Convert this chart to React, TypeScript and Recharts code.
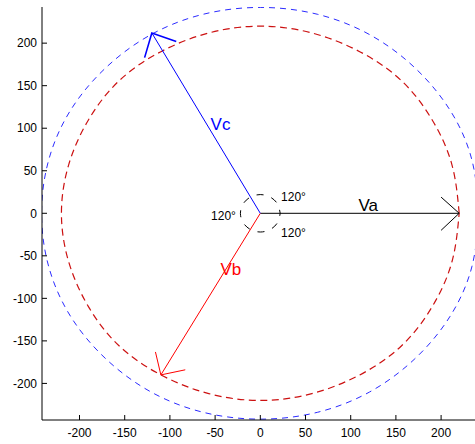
import React from 'react';
import { LineChart, Line, XAxis, YAxis, ReferenceDot } from 'recharts';

// Phasor diagram: three voltage vectors with their tip loci

const xTicks = [-200, -150, -100, -50, 0, 50, 100, 150, 200];
const yTicks = [-200, -150, -100, -50, 0, 50, 100, 150, 200];

// outer locus (blue dashed)
const outerLocus = [
  { x: 242, y: 0 }, { x: 234, y: 63 }, { x: 210, y: 121 }, { x: 171, y: 171 },
  { x: 121, y: 210 }, { x: 63, y: 234 }, { x: 0, y: 242 }, { x: -63, y: 234 },
  { x: -121, y: 210 }, { x: -171, y: 171 }, { x: -210, y: 121 }, { x: -234, y: 63 },
  { x: -242, y: 0 }, { x: -234, y: -63 }, { x: -210, y: -121 }, { x: -171, y: -171 },
  { x: -121, y: -210 }, { x: -63, y: -234 }, { x: 0, y: -242 }, { x: 63, y: -234 },
  { x: 121, y: -210 }, { x: 171, y: -171 }, { x: 210, y: -121 }, { x: 234, y: -63 },
  { x: 242, y: 0 },
];

// inner locus (red dashed)
const innerLocus = [
  { x: 220, y: 0 }, { x: 212, y: 57 }, { x: 190, y: 110 }, { x: 156, y: 156 },
  { x: 110, y: 190 }, { x: 57, y: 212 }, { x: 0, y: 220 }, { x: -57, y: 212 },
  { x: -110, y: 190 }, { x: -156, y: 156 }, { x: -190, y: 110 }, { x: -212, y: 57 },
  { x: -220, y: 0 }, { x: -212, y: -57 }, { x: -190, y: -110 }, { x: -156, y: -156 },
  { x: -110, y: -190 }, { x: -57, y: -212 }, { x: 0, y: -220 }, { x: 57, y: -212 },
  { x: 110, y: -190 }, { x: 156, y: -156 }, { x: 190, y: -110 }, { x: 212, y: -57 },
  { x: 220, y: 0 },
];

// angle marker round the origin
const angleMarker = [
  { x: 22, y: 0 }, { x: 19, y: 11 }, { x: 11, y: 19 }, { x: 0, y: 22 },
  { x: -11, y: 19 }, { x: -19, y: 11 }, { x: -22, y: 0 }, { x: -19, y: -11 },
  { x: -11, y: -19 }, { x: 0, y: -22 }, { x: 11, y: -19 }, { x: 19, y: -11 },
  { x: 22, y: 0 },
];

const vaShaft = [{ x: 0, y: 0 }, { x: 220, y: 0 }];
const vaHead = [{ x: 200, y: 19 }, { x: 220, y: 0 }, { x: 200, y: -20 }];
const vbShaft = [{ x: 0, y: 0 }, { x: -110, y: -190 }];
const vbHead = [{ x: -116, y: -163 }, { x: -110, y: -190 }, { x: -83, y: -184 }];
const vcShaft = [{ x: 0, y: 0 }, { x: -120, y: 212 }];
const vcHead = [{ x: -128, y: 183 }, { x: -120, y: 212 }, { x: -93, y: 202 }];

const labels = [
  { x: 108.5, y: 2.7, text: 'Va', color: '#000', size: 17 },
  { x: -55, y: 97.5, text: 'Vc', color: '#0000ff', size: 17 },
  { x: -44, y: -73, text: 'Vb', color: '#ff0000', size: 17 },
  { x: 23, y: 14.4, text: '120°', color: '#000', size: 12 },
  { x: 23, y: -27.8, text: '120°', color: '#000', size: 12 },
  { x: -54.5, y: -7.4, text: '120°', color: '#000', size: 12 },
];

const series = [
  { key: 'outer', data: outerLocus, stroke: '#2b2bff', width: 1, dash: '6 5', type: 'natural' },
  { key: 'inner', data: innerLocus, stroke: '#cc1111', width: 1.2, dash: '7 4.5', type: 'natural' },
  { key: 'va', data: vaShaft, stroke: '#333', width: 1.3, type: 'linear' },
  { key: 'vaHead', data: vaHead, stroke: '#000', width: 1, type: 'linear' },
  { key: 'vb', data: vbShaft, stroke: '#ff0000', width: 1, type: 'linear' },
  { key: 'vbHead', data: vbHead, stroke: '#ff0000', width: 1, type: 'linear' },
  { key: 'vc', data: vcShaft, stroke: '#0000ff', width: 1, type: 'linear' },
  { key: 'vcHead', data: vcHead, stroke: '#0000ff', width: 1.6, type: 'linear' },
  { key: 'angle', data: angleMarker, stroke: '#000', width: 1, dash: '7 8.2', offset: 3.5, type: 'natural' },
];

const FONT = '"Liberation Sans", Arial, Helvetica, sans-serif';

const App: React.FC = () => {
  return (
    <div style={{ position: 'absolute', left: 0, top: 0, fontFamily: FONT }}>
      <LineChart
        width={475}
        height={444}
        margin={{ top: 7, right: 0, bottom: 0, left: 0 }}
      >
        <XAxis
          type="number"
          dataKey="x"
          domain={[-241.5, 237.5]}
          allowDataOverflow
          ticks={xTicks}
          interval={0}
          height={24}
          stroke="#000"
          tickSize={-5}
          tickMargin={13}
          tick={{ fill: '#000', fontSize: 12, fontFamily: FONT }}
        />
        <YAxis
          type="number"
          dataKey="y"
          domain={[-243, 242.5]}
          allowDataOverflow
          ticks={yTicks}
          interval={0}
          width={42}
          stroke="#000"
          tickSize={-5}
          tickMargin={10}
          tick={{ fill: '#000', fontSize: 12, fontFamily: FONT }}
        />
        {series.map((s) => (
          <Line
            key={s.key}
            data={s.data}
            dataKey="y"
            type={s.type as any}
            stroke={s.stroke}
            strokeWidth={s.width}
            strokeDasharray={s.dash}
            strokeDashoffset={s.offset}
            dot={false}
            activeDot={false}
            isAnimationActive={false}
          />
        ))}
        {labels.map((l, i) => (
          <ReferenceDot
            key={i}
            x={l.x}
            y={l.y}
            r={0}
            shape={(p: any) => (
              <text
                x={p.cx}
                y={p.cy}
                fill={l.color}
                fontSize={l.size}
                fontFamily={FONT}
                textAnchor="start"
              >
                {l.text}
              </text>
            )}
          />
        ))}
      </LineChart>
    </div>
  );
};

export default App;
